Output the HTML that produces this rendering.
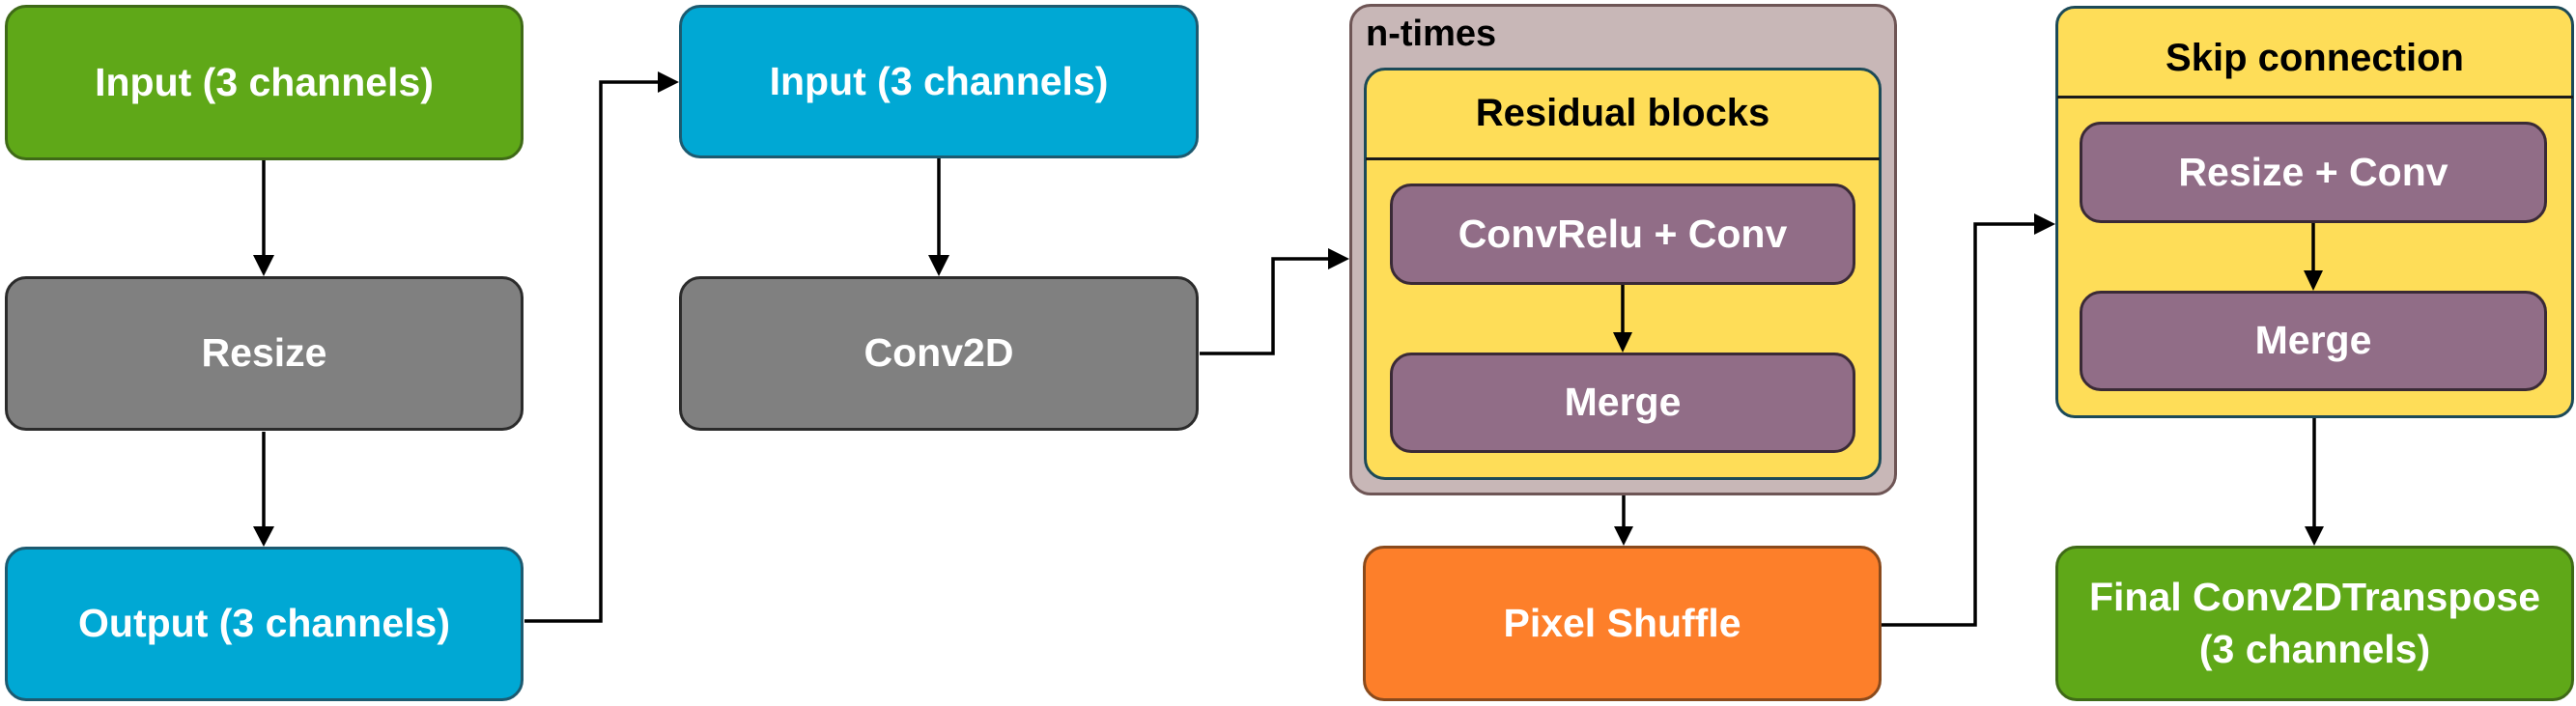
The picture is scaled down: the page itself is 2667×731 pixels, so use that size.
<!DOCTYPE html>
<html><head><style>
body{margin:0;width:2667px;height:731px;background:#fff;position:relative;overflow:hidden;font-family:"Liberation Sans",sans-serif;font-weight:bold}
.b{position:absolute;box-sizing:border-box;border:3px solid #2b2b2b;border-radius:22px;display:flex;align-items:center;justify-content:center;text-align:center;color:#fff;font-size:41px;line-height:1.3}
svg{position:absolute;left:0;top:0}
</style></head><body>
<div class="b" style="left:5px;top:5px;width:537px;height:161px;background:#5fa818;border-color:#3f6a17">Input (3 channels)</div>
<div class="b" style="left:5px;top:286px;width:537px;height:160px;background:#808080">Resize</div>
<div class="b" style="left:5px;top:566px;width:537px;height:160px;background:#00a8d4;border-color:#1d5a70">Output (3 channels)</div>
<div class="b" style="left:703px;top:5px;width:538px;height:159px;background:#00a8d4;border-color:#1d5a70">Input (3 channels)</div>
<div class="b" style="left:703px;top:286px;width:538px;height:160px;background:#808080">Conv2D</div>

<div class="b" style="left:1397px;top:4px;width:567px;height:509px;background:#c8b7b7;border-color:#6e5555;align-items:flex-start;justify-content:flex-start;color:#000;font-size:38px;padding:4px 14px">n-times</div>
<div class="b" style="left:1412px;top:70px;width:536px;height:427px;background:#fedd58;border-color:#1c4a58;align-items:flex-start;color:#000;font-size:40px;padding-top:18px">Residual blocks</div>
<div style="position:absolute;left:1414px;top:163px;width:532px;height:3px;background:#1a1a1a"></div>
<div class="b" style="left:1439px;top:190px;width:482px;height:105px;background:#916d87;border-color:#3a2a36">ConvRelu + Conv</div>
<div class="b" style="left:1439px;top:365px;width:482px;height:104px;background:#916d87;border-color:#3a2a36">Merge</div>
<div class="b" style="left:1411px;top:565px;width:537px;height:161px;background:#fd7f2a;border-color:#8a4a1c">Pixel Shuffle</div>

<div class="b" style="left:2128px;top:6px;width:537px;height:427px;background:#fedd58;border-color:#1c4a58;align-items:flex-start;color:#000;font-size:40px;padding-top:25px;border-radius:20px">Skip connection</div>
<div style="position:absolute;left:2130px;top:99px;width:534px;height:3px;background:#1a1a1a"></div>
<div class="b" style="left:2153px;top:126px;width:484px;height:105px;background:#916d87;border-color:#3a2a36">Resize + Conv</div>
<div class="b" style="left:2153px;top:301px;width:484px;height:104px;background:#916d87;border-color:#3a2a36">Merge</div>
<div class="b" style="left:2128px;top:565px;width:537px;height:161px;background:#5fa818;border-color:#3f6a17">Final Conv2DTranspose<br>(3 channels)</div>

<svg width="2667" height="731">
<g stroke="#000" stroke-width="3.5" fill="none">
<path d="M273 166V264"/><path d="M273 447V545"/>
<path d="M972 164V264"/>
<path d="M543 643H622V85H681"/>
<path d="M1242 366H1318V268H1375"/>
<path d="M1680 295V345"/>
<path d="M1681 513V545"/>
<path d="M1948 647H2045V232H2106"/>
<path d="M2395 231V281"/>
<path d="M2396 433V545"/>
</g>
<g fill="#000">
<path d="M262 264L273 286L284 264z"/><path d="M262 545L273 566L284 545z"/>
<path d="M961 264L972 286L983 264z"/>
<path d="M681 74L703 85L681 96z"/>
<path d="M1375 257L1397 268L1375 279z"/>
<path d="M1670 344L1680 365L1690 344z"/>
<path d="M1671 545L1681 565L1691 545z"/>
<path d="M2106 221L2128 232L2106 243z"/>
<path d="M2385 280L2395 301L2405 280z"/>
<path d="M2386 545L2396 565L2406 545z"/>
</g>
</svg>
</body></html>
